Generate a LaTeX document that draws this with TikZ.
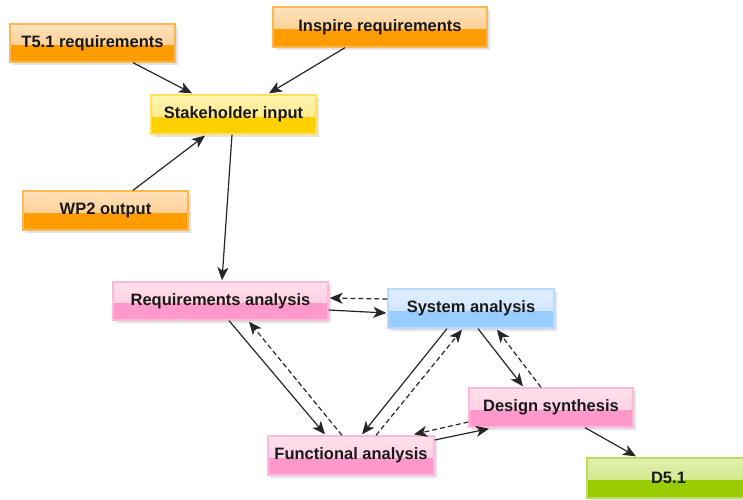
\documentclass[tikz,border=0pt]{standalone}
\usepackage{fontspec}
\setmainfont{Liberation Sans}
\usetikzlibrary{arrows.meta,shadows,calc}
\definecolor{oA}{HTML}{FFE2BC}\definecolor{oB}{HTML}{FFC27A}\definecolor{oC}{HTML}{FF9C00}\definecolor{oD}{HTML}{FFB850}
\definecolor{yA}{HTML}{FFF4B0}\definecolor{yB}{HTML}{FFE470}\definecolor{yC}{HTML}{FFD000}\definecolor{yD}{HTML}{FFE060}
\definecolor{pA}{HTML}{FFE0EC}\definecolor{pB}{HTML}{FFC4DD}\definecolor{pC}{HTML}{FF99CC}\definecolor{pD}{HTML}{FFB8D8}
\definecolor{bA}{HTML}{E0EFFF}\definecolor{bB}{HTML}{C4E0FF}\definecolor{bC}{HTML}{99CCFF}\definecolor{bD}{HTML}{B8DAFF}
\definecolor{gA}{HTML}{E2F0B0}\definecolor{gB}{HTML}{C8E470}\definecolor{gC}{HTML}{99CC00}\definecolor{gD}{HTML}{BEDD60}
\tikzset{
  glossbox/.style n args={4}{draw=#4, line width=1.3pt, inner sep=0pt,
    minimum height=39pt, font=\fontsize{16.5}{19}\bfseries\selectfont, text=black!90,
    drop shadow={opacity=0.22, shadow xshift=2.5pt, shadow yshift=-2.5pt},
    path picture={
      \fill[top color=#1, bottom color=#2] (path picture bounding box.north west) rectangle ([yshift=-2pt]path picture bounding box.east);
      \fill[#3] ([yshift=-2pt]path picture bounding box.west) rectangle (path picture bounding box.south east);
    }},
  orangebox/.style={glossbox={oA}{oB}{oC}{oD}},
  yellowbox/.style={glossbox={yA}{yB}{yC}{yD}},
  pinkbox/.style={glossbox={pA}{pB}{pC}{pD}},
  bluebox/.style={glossbox={bA}{bB}{bC}{bD}},
  greenbox/.style={glossbox={gA}{gB}{gC}{gD}},
  link/.style={line width=1.2pt, black!85, -{Stealth[length=13pt,width=11pt,inset=3.5pt]}},
  backlink/.style={link, dash pattern=on 5pt off 3pt},
}
\begin{document}
\begin{tikzpicture}[x=1pt,y=-1pt]
\useasboundingbox (0,0) rectangle (743,499);
\node[orangebox, minimum width=165pt, minimum height=38pt] (t51) at (92.5,43) {T5.1 requirements};
\node[orangebox, minimum width=214pt, minimum height=40pt] (insp) at (380,27) {Inspire requirements};
\node[yellowbox, minimum width=165pt] (sh) at (233.5,114.5) {Stakeholder input};
\node[orangebox, minimum width=165pt] (wp2) at (105.5,210.5) {WP2 output};
\node[pinkbox, minimum width=215pt, minimum height=38pt] (ra) at (220.5,301) {Requirements analysis};
\node[bluebox, minimum width=166pt] (sa) at (471,308.5) {System analysis};
\node[pinkbox, minimum width=164pt] (ds) at (551,407.5) {Design synthesis};
\node[pinkbox, minimum width=166pt] (fa) at (351,455.5) {Functional analysis};
\node[greenbox, minimum width=163pt, minimum height=40pt] (d51) at (668.5,478) {D5.1};

\draw[link] ([xshift=40.5pt]t51.south) -- ([xshift=-41.5pt,yshift=1pt]sh.north);
\draw[link] ([xshift=-35pt]insp.south) -- ([xshift=35.5pt,yshift=1pt]sh.north);
\draw[link] ([xshift=27.5pt]wp2.north) -- ([xshift=-28.5pt,yshift=-1pt]sh.south);
\draw[link] ([xshift=-1.5pt]sh.south) -- ([xshift=1.5pt,yshift=1pt]ra.north);

\draw[backlink] ([yshift=9.5pt]sa.west) -- ([xshift=1pt,yshift=3pt]ra.east);
\draw[link] ([yshift=-9pt]ra.east) -- ([xshift=-1pt,yshift=-4.5pt]sa.west);

\draw[link] ([xshift=8.5pt]ra.south) -- ([xshift=-26pt,yshift=1pt]fa.north);
\draw[backlink] ([xshift=-9pt]fa.north) -- ([xshift=28.5pt,yshift=-1pt]ra.south);

\draw[link] ([xshift=-24pt]sa.south) -- ([xshift=11pt,yshift=1pt]fa.north);
\draw[backlink] ([xshift=25pt]fa.north) -- ([xshift=-9pt,yshift=-1pt]sa.south);

\draw[link] ([xshift=7pt]sa.south) -- ([xshift=-28pt,yshift=1pt]ds.north);
\draw[backlink] ([xshift=-10pt]ds.north) -- ([xshift=26pt,yshift=-1pt]sa.south);

\draw[backlink] ([yshift=-14.5pt]ds.west) -- ([xshift=63pt,yshift=1pt]fa.north);
\draw[link] ([yshift=15.5pt]fa.east) -- ([xshift=-62pt,yshift=-1pt]ds.south);

\draw[link] ([xshift=34pt]ds.south) -- ([xshift=-32.5pt,yshift=1pt]d51.north);
\end{tikzpicture}
\end{document}
